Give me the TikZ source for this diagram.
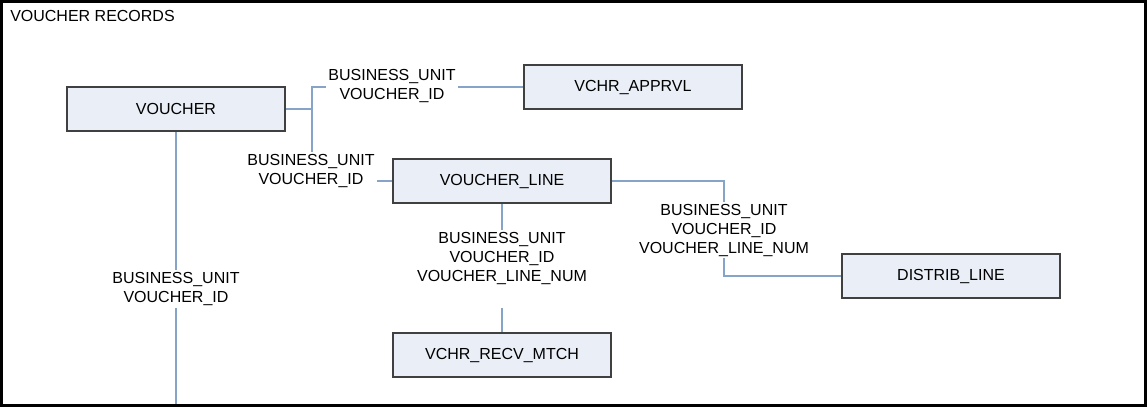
\documentclass[tikz,border=0pt]{standalone}
\usepackage{fontspec}
\setmainfont{Liberation Sans}
\usetikzlibrary{backgrounds}
\definecolor{tblfill}{HTML}{E9EEF7}
\definecolor{tbldraw}{HTML}{404040}
\definecolor{relline}{HTML}{86A3C8}
\tikzset{
  tbl/.style={draw=tbldraw, line width=1.3pt, fill=tblfill, minimum width=163.5pt, minimum height=33pt, inner sep=0pt},
  keys/.style={fill=white, align=center, inner sep=1.5pt},
  rel/.style={draw=relline, line width=1.4pt}
}
\begin{document}
\begin{tikzpicture}[x=0.75pt,y=-0.75pt,font=\fontsize{12}{14.25}\selectfont]
    \useasboundingbox (0,0) rectangle (1148,408);
    \draw[line width=2.25pt] (1.5,1.5) rectangle (1145.5,405.5);
    \node[anchor=base west, inner sep=0pt] (title) at (10,21) {VOUCHER RECORDS};
    % tables
    \node[tbl] (voucher) at (176,109) {VOUCHER};
    \node[tbl] (apprvl) at (633,87) {VCHR\_APPRVL};
    \node[tbl] (vline) at (502,181) {VOUCHER\_LINE};
    \node[tbl] (distrib) at (951,276) {DISTRIB\_LINE};
    \node[tbl] (recvmtch) at (502,355) {VCHR\_RECV\_MTCH};
    % key labels
    \node[keys] (kA) at (392,86) {BUSINESS\_UNIT\\VOUCHER\_ID};
    \node[keys] (kB) at (311,171) {BUSINESS\_UNIT\\VOUCHER\_ID};
    \node[keys] (kC) at (176,289) {BUSINESS\_UNIT\\VOUCHER\_ID};
    \node[keys] (kD) at (502,269) {BUSINESS\_UNIT\\VOUCHER\_ID\\VOUCHER\_LINE\_NUM\\\strut};
    \node[keys] (kE) at (724,230) {BUSINESS\_UNIT\\VOUCHER\_ID\\VOUCHER\_LINE\_NUM};
    \coordinate (j) at (312,109);
    \coordinate (cut) at (176,404);
    \begin{pgfonlayer}{background}
    \draw[rel] (voucher.east) -- (j) |- (apprvl.west);
    \draw[rel] (j) |- (vline.west);
    \draw[rel] (voucher.south) -- (cut);
    \draw[rel] (vline.south) -- (recvmtch.north);
    \draw[rel] (vline.east) -| (kE.center) |- (distrib.west);
    \end{pgfonlayer}
\end{tikzpicture}
\end{document}
